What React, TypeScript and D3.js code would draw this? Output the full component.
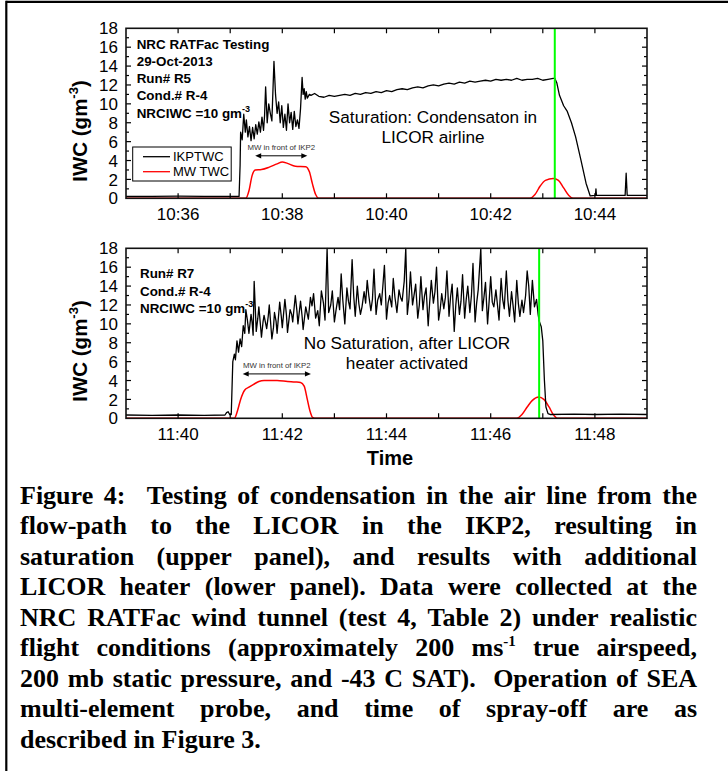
import React, { useMemo } from "react";
import * as d3 from "d3";

const WIDTH = 728;
const HEIGHT = 771;
const PLOT_L = 126;
const PLOT_R = 647;

const TOP_START = new Date(2013, 9, 29, 10, 35, 0);
const BOTTOM_START = new Date(2013, 9, 29, 11, 39, 0);
const SPAN_MIN = 10;
const Y_MAX = 18;

// [minutes after panel start, IWC g/m3]
const TOP_IKP: [number, number][] = [
  [0, 0.2], [0.5, 0.2], [1, 0.22], [1.5, 0.2], [2, 0.2], [2.17, 0.2], [2.19, 3.5], [2.2, 7.0],
  [2.23, 6.2], [2.26, 8.9], [2.29, 7.0], [2.31, 8.3], [2.34, 6.5], [2.37, 7.6], [2.4, 6.1], [2.43, 7.5],
  [2.46, 6.3], [2.49, 7.8], [2.52, 6.8], [2.55, 8.1], [2.58, 7.0], [2.61, 8.6], [2.64, 7.2], [2.66, 8.8],
  [2.68, 11.8], [2.71, 8.0], [2.74, 10.0], [2.77, 9.0], [2.8, 8.2], [2.84, 14.5], [2.87, 11.0], [2.9, 9.0],
  [2.93, 10.2], [2.96, 8.0], [2.99, 9.8], [3.02, 7.5], [3.05, 8.9], [3.08, 7.2], [3.11, 10.0], [3.14, 8.0],
  [3.17, 9.1], [3.2, 7.3], [3.23, 9.2], [3.26, 7.6], [3.29, 8.3], [3.32, 7.4], [3.35, 9.5], [3.38, 12.8],
  [3.4, 11.0], [3.42, 11.6], [3.44, 10.5], [3.46, 11.3], [3.48, 10.6], [3.52, 11.0], [3.55, 10.9],
  [3.62, 11.1], [3.7, 10.8], [3.8, 10.7], [3.9, 10.9], [4.0, 10.8], [4.1, 10.9], [4.2, 11.0], [4.3, 10.9],
  [4.4, 11.1], [4.5, 11.0], [4.6, 11.2], [4.7, 11.1], [4.8, 11.3], [4.9, 11.2], [5.0, 11.4], [5.1, 11.3],
  [5.2, 11.5], [5.3, 11.6], [5.4, 11.5], [5.5, 11.7], [5.6, 11.8], [5.7, 11.7], [5.8, 11.9], [5.9, 12.0],
  [6.0, 11.9], [6.1, 12.1], [6.2, 12.2], [6.3, 12.1], [6.4, 12.3], [6.5, 12.2], [6.6, 12.4], [6.7, 12.3],
  [6.8, 12.4], [6.9, 12.5], [7.0, 12.4], [7.1, 12.6], [7.2, 12.5], [7.3, 12.6], [7.4, 12.5], [7.5, 12.7],
  [7.6, 12.5], [7.7, 12.6], [7.8, 12.6], [7.9, 12.7], [8.0, 12.5], [8.1, 12.6], [8.2, 12.7], [8.23, 12.7],
  [8.27, 12.2], [8.32, 10.9], [8.4, 9.8], [8.47, 9.2], [8.55, 8.0], [8.63, 6.5], [8.73, 4.1], [8.83, 1.6],
  [8.91, 0.25], [9.0, 0.3], [9.01, 0.3], [9.02, 1.0], [9.03, 0.3], [9.3, 0.3], [9.58, 0.3], [9.6, 2.65],
  [9.62, 0.3], [10, 0.3],
];

const TOP_MW: [number, number][] = [
  [0, 0], [2.3, 0], [2.36, 0.8], [2.42, 2.4], [2.48, 3.0], [2.6, 3.05], [2.75, 3.3], [2.9, 3.65],
  [3.0, 3.85], [3.1, 3.7], [3.25, 3.4], [3.45, 3.35], [3.52, 2.8], [3.58, 1.5], [3.64, 0.4], [3.7, 0],
  [7.75, 0], [7.85, 0.4], [7.95, 1.3], [8.05, 1.9], [8.2, 2.1], [8.3, 1.9], [8.4, 1.1], [8.5, 0.3],
  [8.58, 0], [10, 0],
];

const BOTTOM_IKP: [number, number][] = [
  [0, 0.35], [0.5, 0.3], [1, 0.35], [1.5, 0.3], [1.9, 0.35], [1.93, 0.6], [1.96, 0.7], [1.99, 0.4],
  [2.02, 0.4], [2.05, 6.0], [2.08, 6.8], [2.1, 6.2], [2.13, 8.2], [2.16, 7.0], [2.19, 8.4], [2.22, 7.6],
  [2.25, 9.8], [2.28, 9.0], [2.3, 11.5], [2.33, 10.4], [2.36, 9.0], [2.4, 11.0], [2.42, 10.2], [2.44, 8.8],
  [2.46, 14.5], [2.5, 9.2], [2.53, 10.6], [2.55, 11.8], [2.58, 9.9], [2.6, 8.6], [2.63, 10.2], [2.65, 10.9],
  [2.7, 9.5], [2.73, 10.8], [2.75, 12.0], [2.8, 8.4], [2.83, 9.6], [2.85, 11.2], [2.88, 10.3], [2.9, 9.0],
  [2.95, 12.3], [2.98, 10.8], [3.0, 9.6], [3.05, 12.6], [3.08, 10.9], [3.1, 9.1], [3.15, 11.5], [3.18, 11.0],
  [3.2, 10.2], [3.25, 13.0], [3.28, 11.4], [3.3, 10.0], [3.35, 12.4], [3.38, 10.8], [3.4, 9.4], [3.45, 11.8],
  [3.5, 10.5], [3.54, 12.8], [3.57, 11.9], [3.6, 13.2], [3.64, 10.6], [3.68, 11.4], [3.71, 9.8], [3.75, 13.5],
  [3.79, 12.2], [3.82, 10.4], [3.86, 18.0], [3.89, 11.2], [3.93, 12.0], [3.96, 13.5], [4.0, 10.2], [4.03, 11.4],
  [4.07, 12.8], [4.1, 11.5], [4.13, 15.3], [4.16, 12.6], [4.2, 10.0], [4.24, 13.8], [4.27, 12.4], [4.3, 11.6],
  [4.34, 16.8], [4.37, 13.0], [4.4, 10.8], [4.44, 14.0], [4.47, 12.1], [4.5, 11.0], [4.53, 11.8], [4.57, 13.4],
  [4.6, 12.2], [4.63, 14.6], [4.66, 13.0], [4.7, 11.4], [4.73, 12.6], [4.76, 15.8], [4.8, 11.0], [4.83, 12.5],
  [4.87, 13.2], [4.9, 12.0], [4.93, 14.0], [4.96, 16.2], [5.0, 10.5], [5.03, 12.2], [5.06, 13.0], [5.1, 11.8],
  [5.13, 14.8], [5.16, 12.9], [5.2, 11.2], [5.24, 13.6], [5.27, 12.8], [5.3, 12.4], [5.34, 14.5], [5.37, 18.0],
  [5.4, 11.0], [5.43, 12.6], [5.46, 15.5], [5.5, 12.0], [5.53, 13.1], [5.56, 14.2], [5.6, 10.6], [5.63, 12.0],
  [5.66, 15.0], [5.7, 11.5], [5.73, 13.0], [5.76, 13.8], [5.8, 9.8], [5.83, 12.4], [5.86, 14.6], [5.9, 12.2],
  [5.93, 13.4], [5.96, 16.0], [6.0, 10.4], [6.03, 11.5], [6.06, 13.2], [6.1, 11.6], [6.13, 12.8], [6.16, 15.6],
  [6.2, 10.8], [6.23, 12.9], [6.26, 14.2], [6.3, 9.2], [6.33, 12.0], [6.36, 13.8], [6.4, 11.0], [6.43, 12.4],
  [6.46, 15.2], [6.5, 10.6], [6.53, 12.6], [6.56, 14.0], [6.6, 11.2], [6.63, 13.0], [6.66, 16.4], [6.7, 10.2],
  [6.73, 12.2], [6.76, 13.6], [6.81, 18.0], [6.84, 11.4], [6.87, 12.8], [6.9, 14.4], [6.94, 10.0], [6.97, 12.4],
  [7.0, 15.0], [7.03, 12.3], [7.06, 11.8], [7.1, 13.6], [7.13, 12.0], [7.16, 10.4], [7.2, 14.8], [7.23, 12.6],
  [7.26, 11.6], [7.3, 15.6], [7.33, 12.5], [7.36, 10.8], [7.4, 13.4], [7.43, 11.9], [7.46, 10.2], [7.5, 14.6],
  [7.53, 12.2], [7.56, 10.8], [7.6, 12.5], [7.63, 11.2], [7.67, 13.0], [7.7, 15.6], [7.73, 14.0], [7.76, 11.0],
  [7.8, 14.6], [7.84, 11.8], [7.88, 12.6], [7.91, 11.0], [7.93, 10.3], [7.97, 9.7], [8.0, 8.2], [8.03, 4.1],
  [8.06, 1.2], [8.1, 0.5], [8.15, 0.4], [8.6, 0.45], [9, 0.4], [9.5, 0.45], [10, 0.4],
];

const BOTTOM_MW: [number, number][] = [
  [0, 0], [2.08, 0], [2.14, 0.8], [2.2, 2.0], [2.28, 3.0], [2.36, 3.3], [2.45, 3.6], [2.55, 3.9],
  [2.65, 4.0], [2.9, 4.0], [3.1, 3.9], [3.25, 3.85], [3.35, 3.8], [3.42, 3.4], [3.48, 2.0], [3.53, 0.8],
  [3.58, 0.1], [3.65, 0], [7.5, 0], [7.6, 0.4], [7.7, 1.2], [7.8, 1.9], [7.92, 2.25], [8.02, 2.0],
  [8.12, 1.2], [8.2, 0.4], [8.28, 0], [10, 0],
];

const TOP_SPRAY_OFF = 8.23;
const BOTTOM_SPRAY_OFF = 7.93;
const TOP_MW_ARROW: [number, number, number] = [2.48, 3.48, 4.5];
const BOTTOM_MW_ARROW: [number, number, number] = [2.24, 3.55, 4.7];

const TOP_INFO = ["NRC RATFac Testing", "29-Oct-2013", "Run# R5", "Cond.# R-4", "NRCIWC =10 gm^-3"];
const BOTTOM_INFO = ["Run# R7", "Cond.# R-4", "NRCIWC =10 gm^-3"];
const TOP_NOTE = ["Saturation: Condensaton in", "LICOR airline"];
const BOTTOM_NOTE = ["No Saturation, after LICOR", "heater activated"];
const LEGEND = [
  { label: "IKPTWC", color: "#000000" },
  { label: "MW TWC", color: "#ff0000" },
];

const CAPTION_LINES = [
  "Figure 4:  Testing of condensation in the air line from the",
  "flow-path to the LICOR in the IKP2, resulting in",
  "saturation (upper panel), and results with additional",
  "LICOR heater (lower panel). Data were collected at the",
  "NRC RATFac wind tunnel (test 4, Table 2) under realistic",
  "flight conditions (approximately 200 ms^-1 true airspeed,",
  "200 mb static pressure, and -43 C SAT).  Operation of SEA",
  "multi-element probe, and time of spray-off are as",
  "described in Figure 3.",
];

const SANS = "'Liberation Sans', Arial, Helvetica, sans-serif";
const SERIF = "'Liberation Serif', 'Times New Roman', serif";
const CAP_SIZE = 26;
const CAP_SUP = 15;
const CAP_L = 20;
const CAP_R = 697;
const CAP_Y0 = 504;
const CAP_DY = 30.45;

function addMin(d: Date, m: number) {
  return new Date(d.getTime() + m * 60000);
}

function SupText({ text, x, y, size, supSize, weight, anchor }: any) {
  const [base, sup] = text.split("^");
  return (
    <text x={x} y={y} fontSize={size} fontWeight={weight} textAnchor={anchor || "start"}>
      {base}
      {sup ? (
        <tspan fontSize={supSize} dy={-size * 0.45}>
          {sup}
        </tspan>
      ) : null}
    </text>
  );
}

function Panel({ top, bottom, start, ikp, mw, spray, arrow, info, infoX, infoY0, infoDy, note, noteX, noteY0, legend, yLabelCY, id }: any) {
  const x = d3.scaleTime().domain([start, addMin(start, SPAN_MIN)]).range([PLOT_L, PLOT_R]);
  const y = d3.scaleLinear().domain([0, Y_MAX]).range([bottom, top]);
  const tx = (t: number) => x(addMin(start, t));
  const blackLine = d3.line<[number, number]>().x((d) => tx(d[0])).y((d) => y(d[1]));
  const redLine = d3
    .line<[number, number]>()
    .x((d) => tx(d[0]))
    .y((d) => y(d[1]))
    .curve(d3.curveMonotoneX);
  const xTicks = x.ticks(d3.timeMinute.every(1) as any);
  const yTicks = y.ticks(18);
  const fmt = d3.timeFormat("%H:%M");
  const ax0 = tx(arrow[0]);
  const ax1 = tx(arrow[1]);
  const ay = y(arrow[2]);
  const clipId = `clip-${id}`;
  return (
    <g>
      <defs>
        <clipPath id={clipId}>
          <rect x={PLOT_L} y={top - 1} width={PLOT_R - PLOT_L} height={bottom - top + 1} />
        </clipPath>
      </defs>
      <g clipPath={`url(#${clipId})`}>
        <path d={redLine(mw) || ""} fill="none" stroke="#ff0000" strokeWidth={1.5} />
        <path d={blackLine(ikp) || ""} fill="none" stroke="#000" strokeWidth={1.3} strokeLinejoin="round" />
        <line x1={tx(spray)} x2={tx(spray)} y1={top} y2={bottom} stroke="#00ff00" strokeWidth={2} />
      </g>
      {xTicks.map((d, i) => {
        const xx = x(d);
        if (xx <= PLOT_L + 0.5 || xx >= PLOT_R - 0.5) return null;
        return (
          <g key={`xt${i}`}>
            <line x1={xx} x2={xx} y1={bottom} y2={bottom - 5} stroke="#000" strokeWidth={1.2} />
            <line x1={xx} x2={xx} y1={top} y2={top + 5} stroke="#000" strokeWidth={1.2} />
            {d.getMinutes() % 2 === 0 ? (
              <text x={xx} y={bottom + 21.5} fontSize={17} textAnchor="middle">
                {fmt(d)}
              </text>
            ) : null}
          </g>
        );
      })}
      {yTicks.map((v) => {
        const yy = y(v);
        const major = v % 2 === 0;
        const len = major ? 5 : 3;
        return (
          <g key={`yt${v}`}>
            {v > 0 && v < Y_MAX ? (
              <>
                <line x1={PLOT_L} x2={PLOT_L + len} y1={yy} y2={yy} stroke="#000" strokeWidth={1.2} />
                <line x1={PLOT_R} x2={PLOT_R - len} y1={yy} y2={yy} stroke="#000" strokeWidth={1.2} />
              </>
            ) : null}
            {major ? (
              <text x={118} y={yy} dy="0.36em" fontSize={17} textAnchor="end">
                {v}
              </text>
            ) : null}
          </g>
        );
      })}
      <rect x={PLOT_L} y={top} width={PLOT_R - PLOT_L} height={bottom - top} fill="none" stroke="#111" strokeWidth={1.6} />
      <text transform={`translate(87,${yLabelCY}) rotate(-90)`} fontSize={20.5} fontWeight="bold" textAnchor="middle">
        IWC (gm
        <tspan fontSize={13} dy={-9}>
          -3
        </tspan>
        <tspan dy={9}>)</tspan>
      </text>
      {info.map((s: string, i: number) => (
        <SupText key={s} text={s} x={infoX} y={infoY0 + i * infoDy} size={13.4} supSize={9} weight="bold" />
      ))}
      {note.map((s: string, i: number) => (
        <text key={s} x={noteX} y={noteY0 + i * 20} fontSize={17.2} textAnchor="middle">
          {s}
        </text>
      ))}
      <line x1={ax0 + 5} x2={ax1 - 5} y1={ay} y2={ay} stroke="#000" strokeWidth={1} />
      <path d={`M${ax0},${ay}L${ax0 + 6},${ay - 2.6}L${ax0 + 6},${ay + 2.6}Z`} fill="#000" />
      <path d={`M${ax1},${ay}L${ax1 - 6},${ay - 2.6}L${ax1 - 6},${ay + 2.6}Z`} fill="#000" />
      <text x={(ax0 + ax1) / 2} y={ay - 6} fontSize={7.8} textAnchor="middle" fill="#333">
        MW in front of IKP2
      </text>
      {legend ? (
        <g>
          <rect x={132.7} y={147} width={98.5} height={34} fill="#fff" stroke="#000" strokeWidth={1} />
          {LEGEND.map((e, i) => (
            <g key={e.label}>
              <line x1={143} x2={170} y1={156.7 + i * 15} y2={156.7 + i * 15} stroke={e.color} strokeWidth={1.3} />
              <text x={173} y={156.7 + i * 15} dy="0.36em" fontSize={13}>
                {e.label}
              </text>
            </g>
          ))}
        </g>
      ) : null}
    </g>
  );
}

function layoutCaption() {
  const canvas = document.createElement("canvas");
  const ctx = canvas.getContext("2d")!;
  const font = (s: number) => `bold ${s}px ${SERIF}`;
  const wordWidth = (w: string) => {
    const [base, sup] = w.split("^");
    ctx.font = font(CAP_SIZE);
    let wd = ctx.measureText(base).width;
    if (sup) {
      ctx.font = font(CAP_SUP);
      wd += ctx.measureText(sup).width;
    }
    return wd;
  };
  ctx.font = font(CAP_SIZE);
  const sp = ctx.measureText(" ").width;
  return CAPTION_LINES.map((line, i) => {
    const words = line.split(" ");
    const widths = words.map(wordWidth);
    const total = d3.sum(widths);
    const gaps = words.length - 1;
    const justify = i < CAPTION_LINES.length - 1;
    const gap = justify && gaps > 0 ? (CAP_R - CAP_L - total) / gaps : sp;
    let x = CAP_L;
    const items = words.map((w, j) => {
      const it = { w, x };
      x += widths[j] + gap;
      return it;
    });
    return items.filter((it) => it.w !== "");
  });
}

export default function App() {
  const caption = useMemo(() => layoutCaption(), []);
  return (
    <svg
      width={WIDTH}
      height={HEIGHT}
      viewBox={`0 0 ${WIDTH} ${HEIGHT}`}
      style={{ position: "absolute", left: 0, top: 0, background: "#fff" }}
      fontFamily={SANS}
    >
      <rect x={0} y={0} width={WIDTH} height={HEIGHT} fill="#fff" />
      <line x1={6.3} y1={1.8} x2={WIDTH} y2={1.8} stroke="#000" strokeWidth={2.2} />
      <line x1={6.3} y1={0.7} x2={6.3} y2={HEIGHT} stroke="#000" strokeWidth={2.2} />
      <Panel
        id="top"
        top={28.3}
        bottom={198.3}
        start={TOP_START}
        ikp={TOP_IKP}
        mw={TOP_MW}
        spray={TOP_SPRAY_OFF}
        arrow={TOP_MW_ARROW}
        info={TOP_INFO}
        infoX={136.7}
        infoY0={48.8}
        infoDy={17.2}
        note={TOP_NOTE}
        noteX={433}
        noteY0={123.3}
        legend
        yLabelCY={131}
      />
      <Panel
        id="bottom"
        top={248.3}
        bottom={418.3}
        start={BOTTOM_START}
        ikp={BOTTOM_IKP}
        mw={BOTTOM_MW}
        spray={BOTTOM_SPRAY_OFF}
        arrow={BOTTOM_MW_ARROW}
        info={BOTTOM_INFO}
        infoX={140}
        infoY0={278}
        infoDy={17.5}
        note={BOTTOM_NOTE}
        noteX={407}
        noteY0={348.5}
        legend={false}
        yLabelCY={351}
      />
      <text x={390} y={465} fontSize={20} fontWeight="bold" textAnchor="middle">
        Time
      </text>
      <g fontFamily={SERIF} fontWeight="bold" fontSize={CAP_SIZE}>
        {caption.map((line, i) =>
          line.map((it, j) => {
            const [base, sup] = it.w.split("^");
            return (
              <text key={`${i}-${j}`} x={it.x} y={CAP_Y0 + i * CAP_DY}>
                {base}
                {sup ? (
                  <tspan fontSize={CAP_SUP} dy={-10}>
                    {sup}
                  </tspan>
                ) : null}
              </text>
            );
          })
        )}
      </g>
    </svg>
  );
}
